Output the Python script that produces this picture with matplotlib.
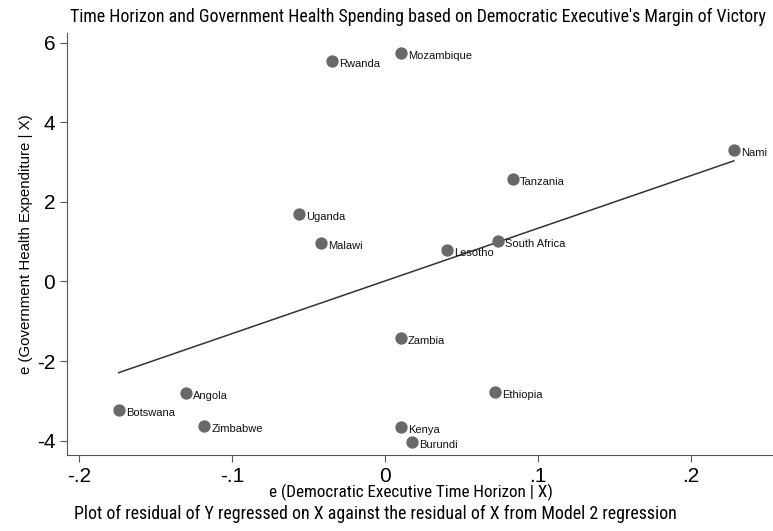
import numpy as np
import matplotlib
matplotlib.use('Agg')
import matplotlib.pyplot as plt

# residuals
countries = ['Rwanda', 'Mozambique', 'Nami', 'Tanzania', 'Uganda', 'Malawi',
             'Lesotho', 'South Africa', 'Zambia', 'Ethiopia', 'Angola',
             'Botswana', 'Zimbabwe', 'Kenya', 'Burundi']
e_time = [-0.0346, 0.0105, 0.228, 0.0837, -0.0562, -0.0418,
          0.0405, 0.0739, 0.0105, 0.0719, -0.130,
          -0.174, -0.118, 0.0105, 0.0176]
e_health = [5.55, 5.75, 3.31, 2.58, 1.70, 0.97,
            0.79, 1.02, -1.42, -2.78, -2.81,
            -3.23, -3.64, -3.66, -4.04]
xticks = [-0.2, -0.1, 0, 0.1, 0.2]
xticklabels = ['-.2', '-.1', '0', '.1', '.2']
yticks = [-4, -2, 0, 2, 4, 6]

narrow = ['Roboto Condensed', 'DejaVu Sans']
plt.rcParams['font.family'] = ['Liberation Sans', 'DejaVu Sans']
plt.rcParams['axes.unicode_minus'] = False

x = np.array(e_time)
y = np.array(e_health)

fig = plt.figure(figsize=(7.73, 5.31), dpi=100)
ax = fig.add_axes([0.0867, 0.143, 0.9133, 0.795])

ax.scatter(x, y, s=62, color='#686868', zorder=3, clip_on=False)
for name, xi, yi in zip(countries, x, y):
    ax.annotate(name, (xi, yi), xytext=(5, -2), textcoords='offset points',
                fontsize=8, va='center', ha='left', color='#111111')

# OLS fit line
b, a = np.polyfit(x, y, 1)
xs = np.array([x.min(), x.max()])
ax.plot(xs, a + b * xs, color='#333333', linewidth=1.1, zorder=2)

ax.set_xlim(-0.2078, 0.2536)
ax.set_ylim(-4.365, 6.25)
ax.set_xticks(xticks)
ax.set_xticklabels(xticklabels)
ax.set_yticks(yticks)
ax.tick_params(labelsize=15, length=5, color='#555555', direction='out')
for s in ['top', 'right']:
    ax.spines[s].set_visible(False)
for s in ['left', 'bottom']:
    ax.spines[s].set_color('#555555')

ax.set_xlabel('e (Democratic Executive Time Horizon | X)', fontsize=12.3,
              family=narrow)
ax.xaxis.set_label_coords(0.487, -0.069)
ax.set_ylabel('e (Government Health Expenditure | X)', fontsize=10.8, labelpad=3)

fig.text(0.541, 0.986, "Time Horizon and Government Health Spending based on Democratic Executive's Margin of Victory",
         ha='center', va='top', fontsize=12.9, family=narrow)
fig.text(0.485, 0.016, 'Plot of residual of Y regressed on X against the residual of X from Model 2 regression',
         ha='center', va='bottom', fontsize=12.9, family=narrow)

fig.savefig('out.png', dpi=100)
